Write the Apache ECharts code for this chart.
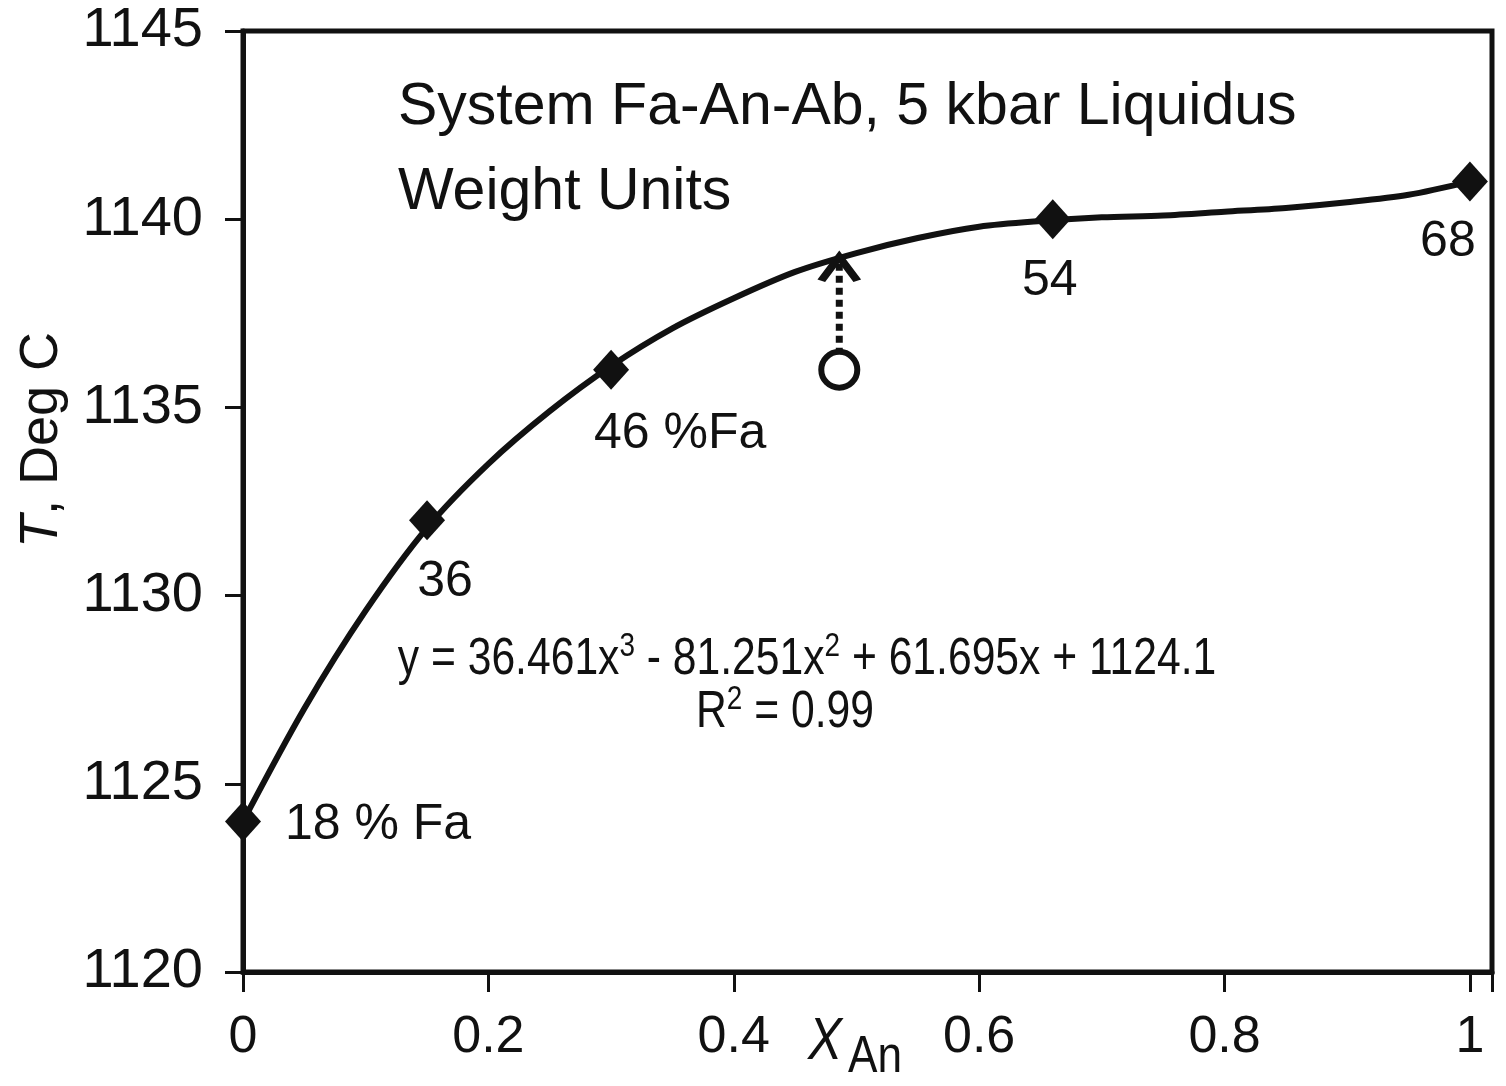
<!DOCTYPE html>
<html>
<head>
<meta charset="utf-8">
<script src="https://cdn.jsdelivr.net/npm/echarts@6/dist/echarts.min.js"></script>
<style>
  html, body { margin: 0; padding: 0; background: #fff; }
  #chart { width: 1506px; height: 1086px; }
</style>
</head>
<body>
<div id="chart"></div>
<script>
// measured liquidus points (X_An, T)
const pointX = [0, 0.15, 0.3, 0.66, 1];
const pointT = [1124, 1132, 1136, 1140, 1141];
const pointLabels = ['18 % Fa', '36', '46 %Fa', '54', '68'];

// fitted trend curve
const curveX = [0, 0.05, 0.1, 0.15, 0.2, 0.25, 0.3, 0.35, 0.4, 0.45, 0.5,
                0.55, 0.6, 0.65, 0.7, 0.75, 0.8, 0.85, 0.9, 0.95, 1];
const curveT = [1124.0, 1127.0, 1129.6, 1131.8, 1133.5, 1134.9, 1136.1, 1137.1, 1137.9, 1138.6, 1139.1,
                1139.5, 1139.8, 1139.95, 1140.05, 1140.1, 1140.2, 1140.3, 1140.45, 1140.65, 1141.0];

// open circle and arrow up to the curve
const openX = 0.486;
const openT = 1136;
const arrowFromT = 1136.4;
const arrowToT = 1139.0;

const xTicks = [0, 0.2, 0.4, 0.6, 0.8, 1];
const yTicks = [1120, 1125, 1130, 1135, 1140, 1145];

// label offsets in px (layout only)
const labelOffsets = [[135, 4], [18, 62], [69, 64], [-3, 62], [-22, 61]];

const FONT = 'Liberation Sans, Arial, sans-serif';
const INK = '#111';

const chart = echarts.init(document.getElementById('chart'));

const pointData = pointX.map((x, i) => ({
  value: [x, pointT[i]],
  label: { formatter: pointLabels[i], offset: labelOffsets[i] }
}));

const supStyle = { fontSize: 34, fontFamily: FONT, fill: INK, verticalAlign: 'top', padding: [0, 0, 26, 0] };

chart.setOption({
  animation: false,
  backgroundColor: '#fff',
  grid: {
    left: 243, right: 14, top: 31, bottom: 114,
    show: true, borderColor: INK, borderWidth: 5, backgroundColor: 'transparent'
  },
  xAxis: {
    type: 'value', min: 0, max: 1.018, interval: 0.2,
    axisLine: { lineStyle: { color: INK, width: 5 } },
    axisTick: { inside: false, length: 20, lineStyle: { color: INK, width: 3 } },
    splitLine: { show: false },
    axisLabel: {
      margin: 40, fontSize: 52, color: INK, fontFamily: FONT,
      formatter: v => xTicks.some(t => Math.abs(t - v) < 1e-6) ? String(+v.toFixed(1)) : ''
    }
  },
  yAxis: {
    type: 'value', min: 1120, max: 1145, interval: 5,
    axisLine: { lineStyle: { color: INK, width: 5 } },
    axisTick: { inside: false, length: 18, lineStyle: { color: INK, width: 3 } },
    splitLine: { show: false },
    axisLabel: {
      margin: 40, fontSize: 56, color: INK, fontFamily: FONT,
      formatter: v => yTicks.includes(v) ? String(v) : ''
    }
  },
  series: [
    {
      type: 'line',
      data: curveX.map((x, i) => [x, curveT[i]]),
      smooth: 0.3,
      showSymbol: false,
      lineStyle: { color: INK, width: 6 },
      z: 2
    },
    {
      type: 'scatter',
      data: pointData,
      symbol: 'diamond',
      symbolSize: [36, 40],
      itemStyle: { color: INK, opacity: 1 },
      label: {
        show: true, position: 'inside', fontSize: 50, color: INK, fontFamily: FONT
      },
      z: 3
    },
    {
      type: 'line',
      data: [
        { value: [openX, arrowFromT], symbol: 'none' },
        { value: [openX, arrowToT], symbol: 'path://M0,24 L18,0 L36,24', symbolSize: [36, 24], symbolOffset: [0, 12] }
      ],
      showSymbol: true,
      lineStyle: { color: INK, width: 7, type: [7, 5] },
      itemStyle: { color: 'transparent', borderColor: INK, borderWidth: 7 },
      z: 4
    },
    {
      type: 'scatter',
      data: [[openX, openT]],
      symbol: 'circle',
      symbolSize: 36,
      itemStyle: { color: '#fff', borderColor: INK, borderWidth: 6, opacity: 1 },
      z: 5
    }
  ],
  graphic: [
    {
      type: 'text', left: 398, top: 78,
      style: { text: 'System Fa-An-Ab, 5 kbar Liquidus', fontSize: 59, fontFamily: FONT, fill: INK }
    },
    {
      type: 'text', left: 398, top: 163,
      style: { text: 'Weight Units', fontSize: 59, fontFamily: FONT, fill: INK }
    },
    {
      type: 'text', x: 807, y: 660, scaleX: 0.82,
      style: {
        text: 'y = 36.461x{sup|3} - 81.251x{sup|2} + 61.695x + 1124.1',
        fontSize: 52, fontFamily: FONT, fill: INK, align: 'center', verticalAlign: 'middle',
        rich: { sup: supStyle }
      }
    },
    {
      type: 'text', x: 785, y: 713, scaleX: 0.82,
      style: {
        text: 'R{sup|2} = 0.99',
        fontSize: 52, fontFamily: FONT, fill: INK, align: 'center', verticalAlign: 'middle',
        rich: { sup: supStyle }
      }
    },
    {
      type: 'text', x: 42, y: 440, rotation: Math.PI / 2,
      style: {
        text: '{it|T}, Deg C',
        fontSize: 54, fontFamily: FONT, fill: INK, align: 'center', verticalAlign: 'middle',
        rich: { it: { fontSize: 54, fontStyle: 'italic', fontFamily: FONT, fill: INK } }
      }
    },
    {
      type: 'text', left: 808, top: 1012, scaleX: 0.85,
      style: { text: 'X', fontSize: 60, fontStyle: 'italic', fontFamily: FONT, fill: INK }
    },
    {
      type: 'text', left: 848, top: 1032, scaleX: 0.85,
      style: { text: 'An', fontSize: 52, fontFamily: FONT, fill: INK }
    }
  ]
});
</script>
</body>
</html>
